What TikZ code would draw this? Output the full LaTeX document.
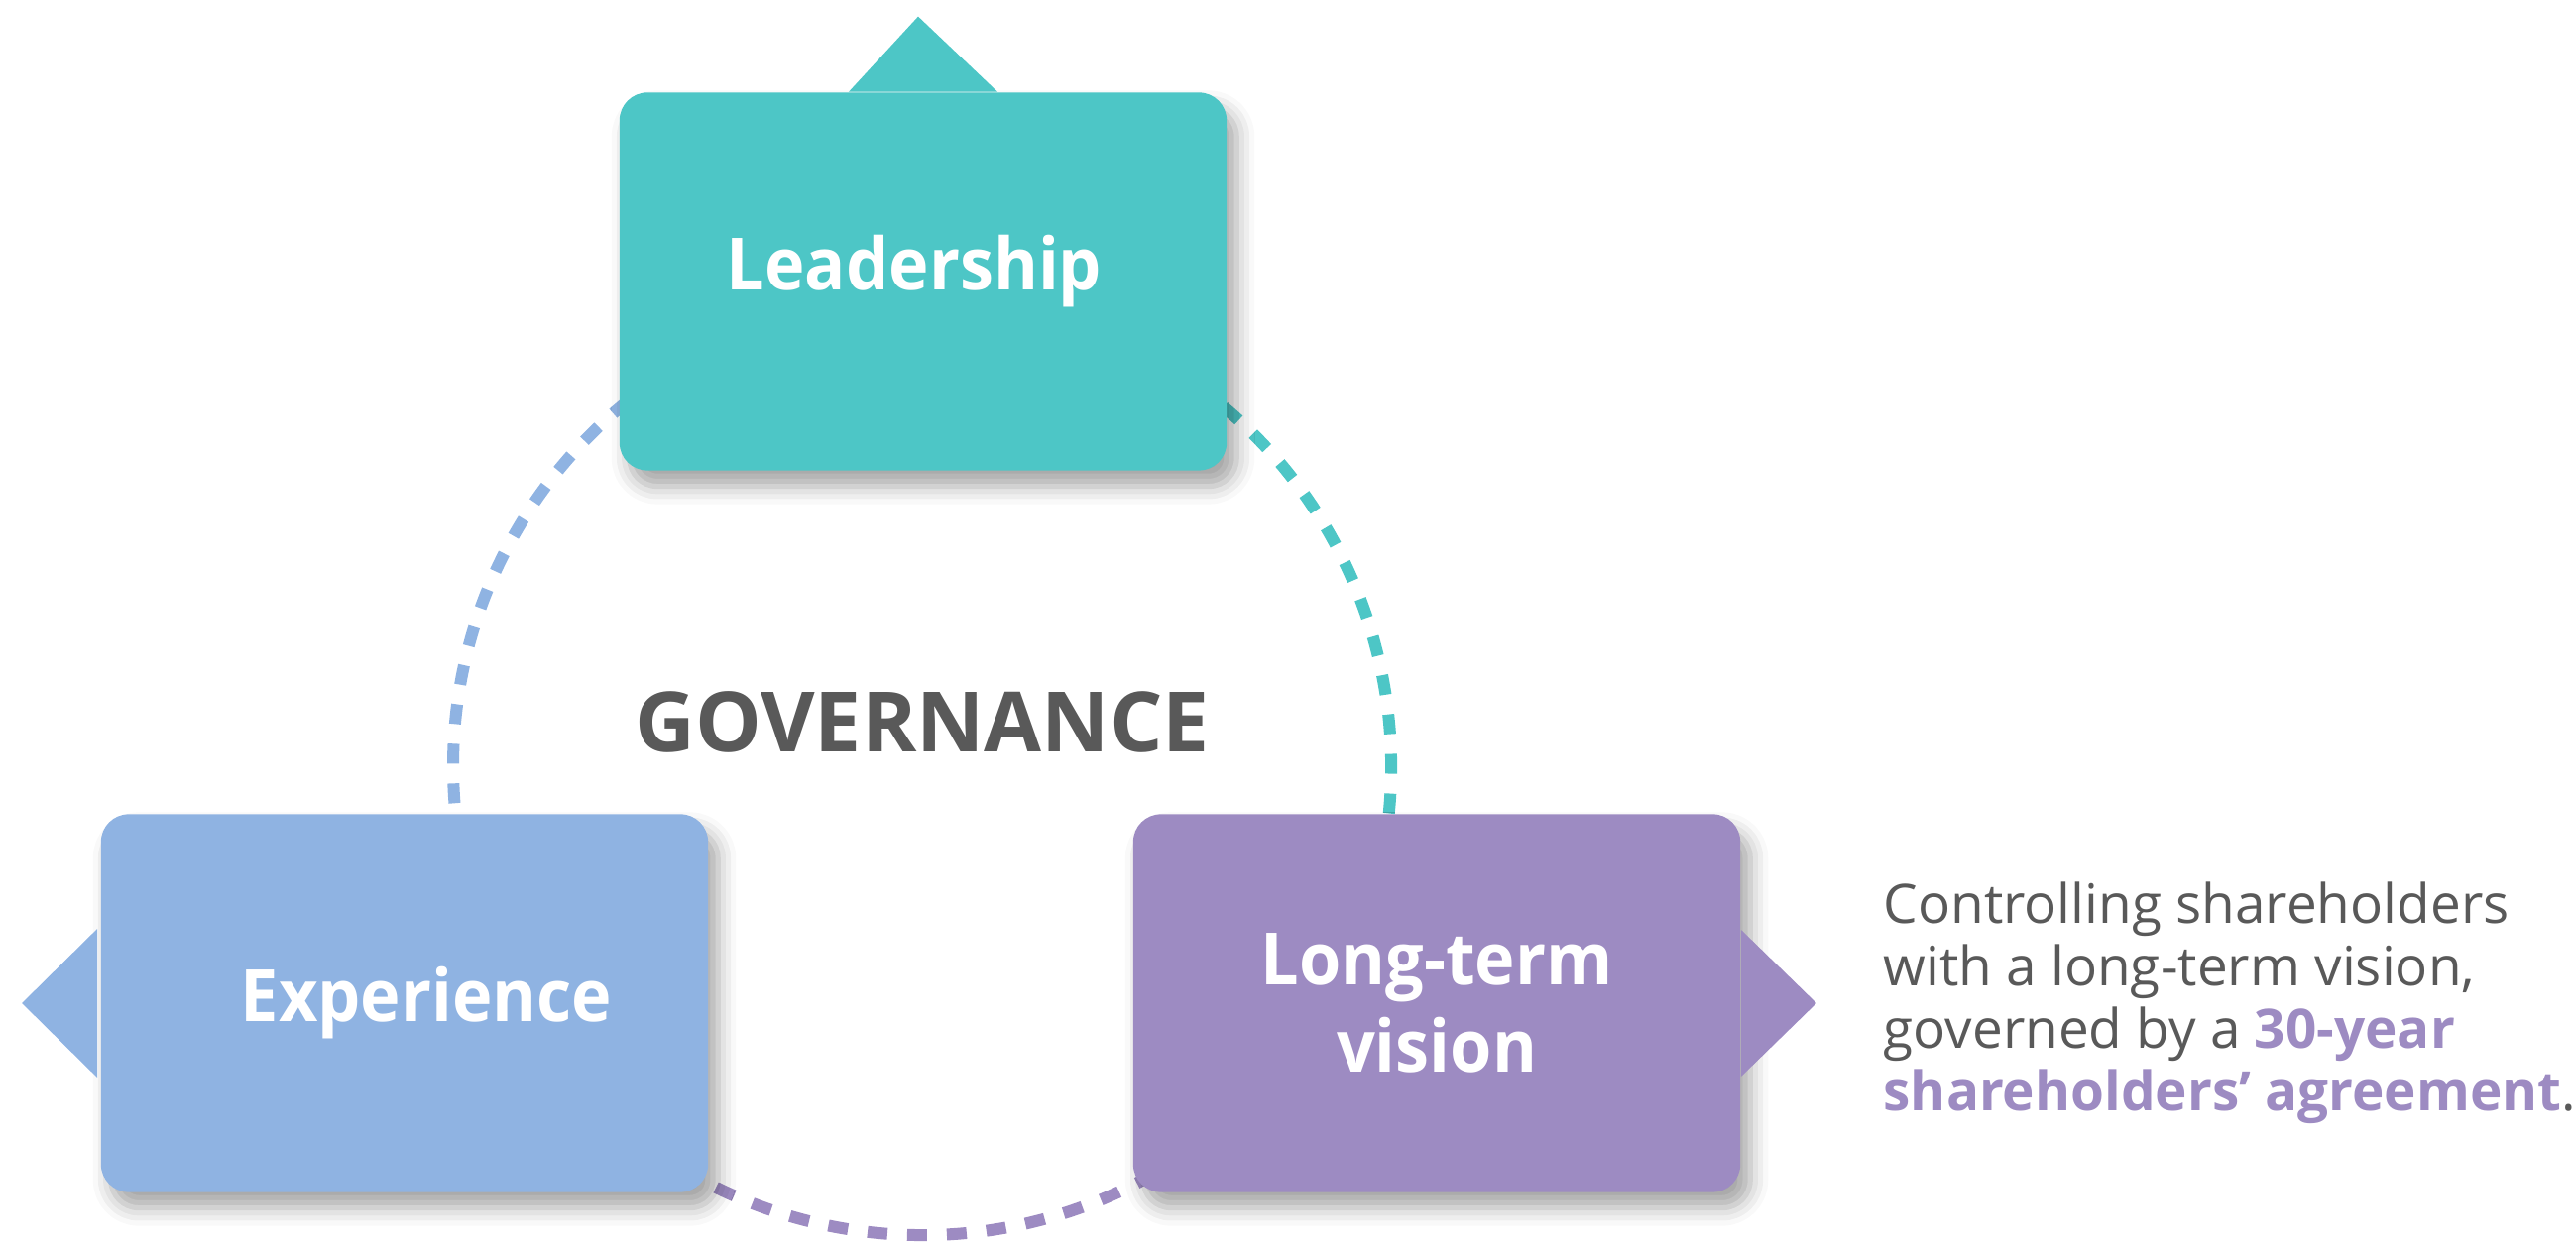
\documentclass[tikz,border=0pt]{standalone}
\usepackage{fontspec}
\setmainfont{Open Sans}
\newfontfamily\cardfont{Open Sans}[FakeStretch=0.94]
\usepackage{xcolor}
\usetikzlibrary{positioning,shadows.blur}
\definecolor{leadcol}{HTML}{4DC6C6}
\definecolor{expcol}{HTML}{8FB3E2}
\definecolor{viscol}{HTML}{9D8BC2}
\definecolor{textgray}{HTML}{595959}
\tikzstyle{card} = [minimum width=6.12cm, minimum height=3.81cm, rounded corners=0.28cm, inner sep=0pt,
  blur shadow={shadow xshift=0.1cm, shadow yshift=-0.16cm, shadow blur radius=0.18cm, shadow opacity=35}]
\tikzstyle{cardtext} = [text=white, align=center, font=\cardfont\fontsize{20.7}{25}\selectfont\bfseries]
\tikzstyle{ring} = [line width=0.12cm, dash pattern=on 0.2cm off 0.2cm]

\begin{document}
\begin{tikzpicture}[x=0.01cm, y=0.01cm]
			\useasboundingbox (0,0) rectangle (2598,1258);
			\coordinate (ctr) at (930,485);
			\draw[ring, expcol] (ctr) ++(90:473) arc[start angle=90, end angle=210, radius=473];
			\draw[ring, leadcol] (ctr) ++(-30:473) arc[start angle=-30, end angle=90, radius=473];
			\draw[ring, viscol] (ctr) ++(210:473) arc[start angle=210, end angle=330, radius=473];
			\node[card, fill=leadcol] (lead) at (931,974) {};
			\node[card, fill=expcol] (exp) at (408,246) {};
			\node[card, fill=viscol, right=4.27cm of exp] (vis) {};
			\fill[leadcol] ([xshift=-0.75cm]lead.north) -- ([xshift=-0.05cm, yshift=0.76cm]lead.north) -- ([xshift=0.75cm]lead.north) -- cycle;
			\fill[expcol] ([xshift=-0.03cm, yshift=0.75cm]exp.west) -- ([xshift=-0.79cm]exp.west) -- ([xshift=-0.03cm, yshift=-0.75cm]exp.west) -- cycle;
			\fill[viscol] ([yshift=0.74cm]vis.east) -- ([xshift=0.76cm]vis.east) -- ([yshift=-0.74cm]vis.east) -- cycle;
			\node[cardtext] (leadlabel) at ([xshift=-0.09cm, yshift=0.1cm]lead.center) {Leadership};
			\node[cardtext] (explabel) at ([xshift=0.22cm]exp.center) {Experience};
			\node[cardtext] (vislabel) at (vis.center) {Long-term\\vision};
			\node[text=textgray, font=\fontsize{23.9}{28}\selectfont\bfseries] (gov) at (930,530) {GOVERNANCE};
			\node[right=1.43cm of vis, align=left, inner sep=0pt, text=textgray, font=\fontsize{15.6}{17.9}\selectfont] (note)
				{Controlling shareholders\\with a long-term vision,\\governed by a \textcolor{viscol}{\bfseries 30-year}\\\textcolor{viscol}{\bfseries shareholders’ agreement}.};
		\end{tikzpicture}
\end{document}
